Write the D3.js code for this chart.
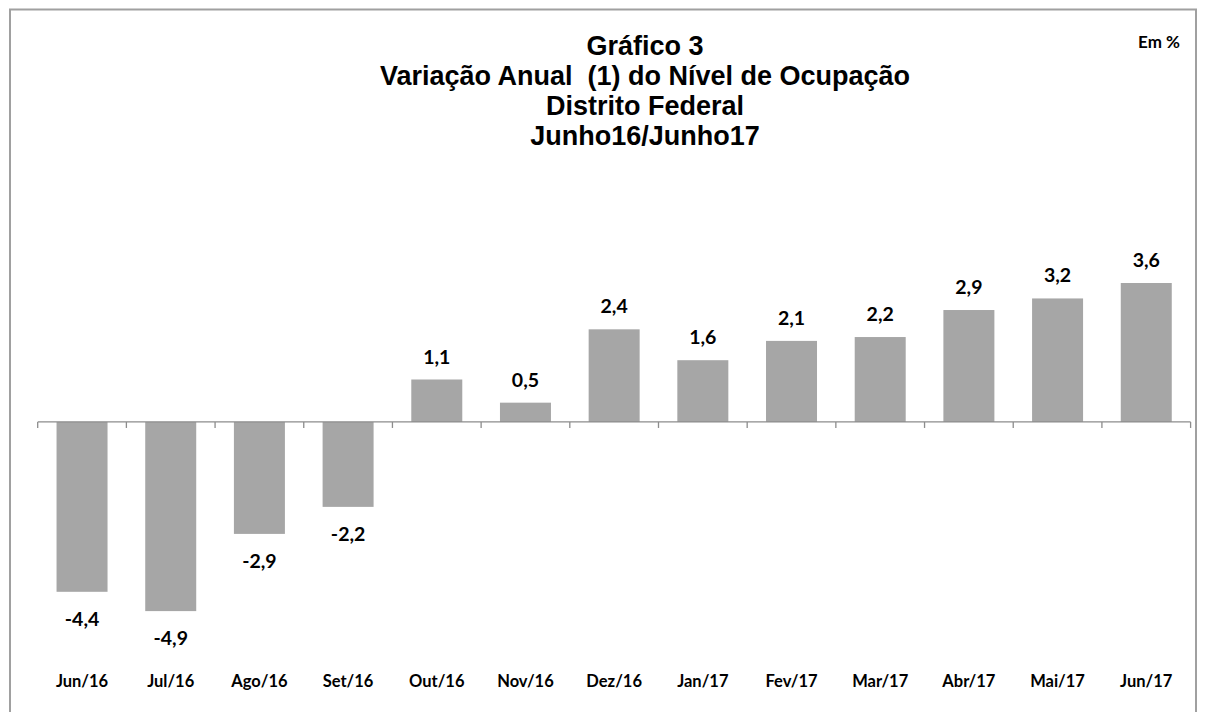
<!DOCTYPE html>
<html><head><meta charset="utf-8">
<script src="https://cdn.jsdelivr.net/npm/d3@7"></script>
<style>body{margin:0;background:#fff}svg{display:block}text{white-space:pre}</style>
</head><body>
<svg id="c" width="1205" height="712"></svg>
<script>
const categories = ["Jun/16","Jul/16","Ago/16","Set/16","Out/16","Nov/16","Dez/16","Jan/17","Fev/17","Mar/17","Abr/17","Mai/17","Jun/17"];
const values = [-4.4,-4.9,-2.9,-2.2,1.1,0.5,2.4,1.6,2.1,2.2,2.9,3.2,3.6];
const titleLines = ["Gráfico 3","Variação Anual  (1) do Nível de Ocupação","Distrito Federal","Junho16/Junho17"];
const unitLabel = "Em %";

const svg = d3.select("#c");
svg.append("rect").attr("x",10).attr("y",9.5).attr("width",1186).attr("height",720)
  .attr("fill","none").attr("stroke","#a0a0a0").attr("stroke-width",2);

const x = d3.scaleBand().domain(categories).range([37.7,1190.6]).paddingInner(0.425).paddingOuter(0.2125);
const y = d3.scaleLinear().domain([-4.9,3.6]).range([611.1,283]);
const fmt = v => d3.format(".1f")(v).replace(".",",").replace("\u2212","-");

svg.selectAll("rect.bar").data(values).enter().append("rect").attr("class","bar")
  .attr("x",(d,i)=>x(categories[i])).attr("width",x.bandwidth())
  .attr("y",d=>y(Math.max(0,d))).attr("height",d=>Math.abs(y(d)-y(0)))
  .attr("fill","#a6a6a6");

const ax = svg.append("g").attr("stroke","#8c8c8c").attr("stroke-width",1.3);
ax.append("line").attr("x1",x.range()[0]).attr("x2",x.range()[1]).attr("y1",y(0)).attr("y2",y(0));
const step = x.step();
d3.range(categories.length+1).forEach(i=>{
  const xx = x.range()[0]+i*step;
  ax.append("line").attr("x1",xx).attr("x2",xx).attr("y1",y(0)).attr("y2",y(0)+6);
});

svg.selectAll("text.val").data(values).enter().append("text").attr("class","val")
  .attr("x",(d,i)=>x(categories[i])+x.bandwidth()/2)
  .attr("y",d=> d>=0 ? y(d)-16 : y(d)+34)
  .attr("text-anchor","middle").attr("font-family","Lato, 'Open Sans', sans-serif")
  .attr("font-weight","bold").attr("font-size",19.5).attr("fill","#000").text(fmt);

svg.selectAll("text.cat").data(categories).enter().append("text").attr("class","cat")
  .attr("x",d=>x(d)+x.bandwidth()/2).attr("y",687)
  .attr("text-anchor","middle").attr("font-family","Lato, 'Open Sans', sans-serif")
  .attr("font-weight","bold").attr("font-size",16.5).attr("fill","#000").text(d=>d);

svg.selectAll("text.title").data(titleLines).enter().append("text").attr("class","title")
  .attr("x",645).attr("y",(d,i)=>55+i*30)
  .attr("text-anchor","middle").attr("font-family","'Liberation Sans', Arial, sans-serif")
  .attr("font-weight","bold").attr("font-size",27).attr("fill","#000").text(d=>d);

svg.append("text").attr("x",1159).attr("y",48).attr("text-anchor","middle")
  .attr("font-family","Lato, sans-serif").attr("font-weight","bold").attr("font-size",17).text(unitLabel);
</script>
</body></html>
